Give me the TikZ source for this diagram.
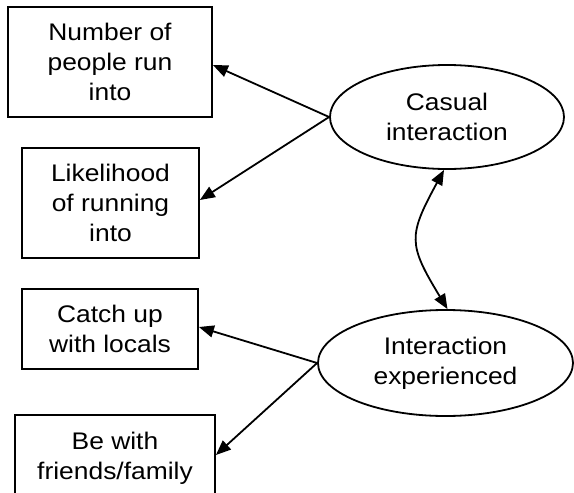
\documentclass[tikz,border=0pt]{standalone}
\usepackage{fontspec}
\setmainfont[FakeStretch=1.1]{Liberation Sans}
\usetikzlibrary{shapes.geometric,arrows.meta}
\begin{document}
\begin{tikzpicture}[x=1pt,y=-1pt,
  every node/.style={font=\fontsize{24}{30}\selectfont, align=center, inner sep=0pt},
  boxnode/.style={draw, line width=1.8pt, rectangle},
  ellnode/.style={draw, line width=1.8pt, ellipse},
  arr/.style={line width=1.8pt, -{Triangle[length=15pt,width=12pt]}},
  darr/.style={line width=1.8pt, {Triangle[length=15pt,width=12pt]}-{Triangle[length=15pt,width=12pt]}}
]
\useasboundingbox (0,0) rectangle (574,493);
\clip (0,0) rectangle (574,493);
\node[boxnode, minimum width=204pt, minimum height=110pt] (b1) at (110,62) {Number of\\people run\\into};
\node[boxnode, minimum width=177pt, minimum height=110pt] (b2) at (110.5,203) {Likelihood\\of running\\into};
\node[boxnode, minimum width=176pt, minimum height=80pt] (b3) at (110,329) {Catch up\\with locals};
\node[boxnode, minimum width=200pt, minimum height=86pt] (b4) at (115,458) {Be with\\friends/family};
\node[ellnode, minimum width=234pt, minimum height=104pt] (e1) at (447,117) {Casual\\interaction};
\node[ellnode, minimum width=255pt, minimum height=106pt] (e2) at (445.5,363) {Interaction\\experienced};
\draw[arr] (e1.west) -- ([yshift=-3pt]b1.east);
\draw[arr] (e1.west) -- ([yshift=3pt]b2.east);
\draw[arr] (e2.west) -- ([yshift=2pt]b3.east);
\draw[arr] (e2.west) -- ([yshift=3pt]b4.east);
\draw[darr] ([xshift=-3pt]e1.south) .. controls (408,236) and (408,244) .. ([xshift=2pt]e2.north);
\end{tikzpicture}
\end{document}
